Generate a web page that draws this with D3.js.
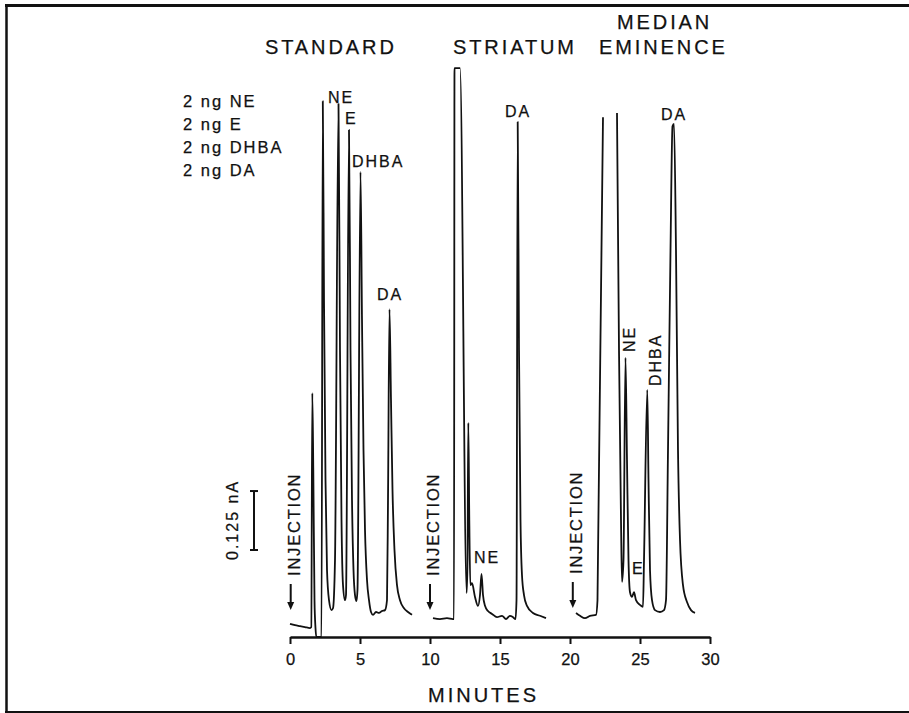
<!DOCTYPE html>
<html><head><meta charset="utf-8">
<script src="https://cdn.jsdelivr.net/npm/d3@7"></script>
<style>
html,body{margin:0;padding:0;background:#fff;}
svg{display:block;}
text{font-family:"Liberation Sans",Arial,Helvetica,sans-serif;fill:#111;stroke:#111;stroke-width:0.25px;}
</style></head><body>
<svg id="chart" width="909" height="713"></svg>
<script>
// ---- data (minutes, nA) ----
const standardTime = [0,0.357,0.714,1.071,1.429,1.521,1.593,1.664,1.750,1.821,1.879,2.250,2.343,2.429,2.536,2.643,2.786,2.964,3.071,3.214,3.464,3.571,3.679,3.786,3.929,4.000,4.214,4.321,4.429,4.536,4.643,4.750,4.821,5.036,5.143,5.250,5.357,5.500,5.643,5.786,5.929,6.143,6.357,6.571,6.786,6.929,7.000,7.107,7.214,7.321,7.464,7.643,7.857,8.143,8.429,8.714];
const standardCurrent = [0.028,0.025,0.023,0.021,0.019,0.021,0.517,0.354,0.078,0.019,0.000,0.000,1.136,0.714,0.333,0.142,0.078,0.057,0.061,0.163,1.130,0.608,0.248,0.110,0.078,0.089,1.075,0.608,0.290,0.142,0.089,0.076,0.100,0.986,0.672,0.396,0.227,0.121,0.078,0.053,0.047,0.053,0.051,0.055,0.057,0.078,0.290,0.695,0.502,0.312,0.184,0.110,0.078,0.061,0.053,0.047];

const striatumTime = [10.214,10.714,11.214,11.643,11.714,11.750,12.143,12.621,12.679,12.736,12.807,12.879,13.000,13.214,13.429,13.571,13.679,13.786,13.929,14.143,14.429,14.786,15.143,15.429,15.714,15.929,16.107,16.179,16.264,16.357,16.464,16.571,16.714,16.929,17.357,17.857,18.286];
const striatumCurrent = [0.040,0.038,0.040,0.038,0.038,1.206,1.206,0.093,0.163,0.454,0.248,0.110,0.114,0.085,0.066,0.089,0.134,0.089,0.066,0.055,0.049,0.042,0.045,0.038,0.045,0.042,0.038,0.078,1.092,0.608,0.248,0.131,0.089,0.066,0.051,0.045,0.040];

// null = pen off scale (gap in trace)
const medianTime = [20.429,20.714,21.071,21.429,21.857,21.964,22.357,22.9,23.357,23.500,23.643,23.714,23.821,23.964,24.071,24.179,24.286,24.429,24.571,24.714,25.000,25.214,25.286,25.521,25.607,25.714,25.857,26.071,26.429,26.714,26.857,27.000,27.179,27.321,27.429,27.571,27.714,27.857,28.071,28.357,28.643,28.929];
const medianCurrent = [0.051,0.045,0.040,0.045,0.047,0.078,1.102,null,1.111,0.608,0.248,0.117,0.163,0.592,0.375,0.163,0.095,0.085,0.095,0.078,0.068,0.064,0.163,0.524,0.333,0.142,0.078,0.057,0.053,0.057,0.078,0.396,0.820,1.083,1.088,0.820,0.396,0.206,0.110,0.074,0.057,0.051];

const xTicks = [0,5,10,15,20,25,30];
const injectionTimes = [0.05,10.0,20.2];
const scaleBarCurrent = 0.125;
const legendLines = ["2 ng NE","2 ng E","2 ng DHBA","2 ng DA"];
const panelTitles = ["STANDARD","STRIATUM","MEDIAN","EMINENCE"];
// peak labels: text, time (min), current (nA), rotated
const labelText = ["NE","E","DHBA","DA","NE","DA","NE","DHBA","E","DA"];
const labelTime = [2.714,3.929,4.429,6.214,13.143,15.357,24.643,26.5,24.429,26.5];
const labelCurrent = [1.132,1.088,0.996,0.714,0.157,1.102,0.604,0.532,0.134,1.096];
const labelRotated = [false,false,false,false,false,false,true,true,false,false];

// ---- drawing ----
const svg = d3.select("#chart");
const x = d3.scaleLinear().domain([0,30]).range([290,710]);
const y = d3.scaleLinear().domain([0,1.2]).range([637,71]);
const ink = "#111";

// frame
svg.append("line").attr("x1",6.5).attr("x2",6.5).attr("y1",5).attr("y2",713).attr("stroke",ink).attr("stroke-width",2.5);
svg.append("line").attr("x1",5).attr("x2",909).attr("y1",5.5).attr("y2",5.5).attr("stroke",ink).attr("stroke-width",3);
svg.append("line").attr("x1",5).attr("x2",909).attr("y1",712).attr("y2",712).attr("stroke",ink).attr("stroke-width",2);

// axis
const ax = svg.append("g").attr("transform","translate(0,637)")
  .call(d3.axisBottom(x).tickValues(xTicks).tickSize(7).tickSizeOuter(0).tickPadding(9).tickFormat(d3.format("d")));
ax.select(".domain").attr("stroke",ink).attr("stroke-width",2.5);
ax.selectAll(".tick line").attr("stroke",ink).attr("stroke-width",2);
ax.selectAll(".tick text").attr("font-size",16.5).attr("fill",ink)
  .style("font-family",'"Liberation Sans",Arial,sans-serif');
svg.append("text").attr("x",428).attr("y",702).attr("font-size",20).attr("letter-spacing",3).text("MINUTES");

// traces
const line = d3.line().defined(d=>d[1]!==null).x(d=>x(d[0])).y(d=>y(d[1])).curve(d3.curveMonotoneX);
[[standardTime,standardCurrent],[striatumTime,striatumCurrent],[medianTime,medianCurrent]].forEach(([t,c])=>{
  svg.append("path").datum(t.map((v,i)=>[v,c[i]]))
    .attr("d",line).attr("fill","none").attr("stroke",ink).attr("stroke-width",1.8).attr("stroke-linejoin","round");
});

// titles
const titlePos = [[265,54],[453,54],[617,29],[599,54]];
panelTitles.forEach((s,i)=>{
  svg.append("text").attr("x",titlePos[i][0]).attr("y",titlePos[i][1]).attr("font-size",20).attr("letter-spacing",2.9).text(s);
});

// legend
legendLines.forEach((s,i)=>{
  svg.append("text").attr("x",183).attr("y",106.5+i*23).attr("font-size",16.5).attr("letter-spacing",2).text(s);
});

// peak labels
labelText.forEach((s,i)=>{
  const px = x(labelTime[i]), py = y(labelCurrent[i]);
  const t = svg.append("text").attr("font-size",16).attr("letter-spacing",2).text(s);
  if (labelRotated[i]) t.attr("transform",`translate(${px},${py}) rotate(-90)`);
  else t.attr("x",px).attr("y",py);
});

// injection markers
injectionTimes.forEach((t,i)=>{
  const px = x(t);
  const top = i===2 ? 582 : 584;
  svg.append("line").attr("x1",px).attr("x2",px).attr("y1",top).attr("y2",top+19).attr("stroke",ink).attr("stroke-width",2);
  svg.append("path").attr("d",`M${px-3.5},${top+18}L${px+3.5},${top+18}L${px},${top+26}Z`).attr("fill",ink);
  svg.append("text").attr("transform",`translate(${px+9},${top-8}) rotate(-90)`).attr("font-size",16.5).attr("letter-spacing",1.8).text("INJECTION");
});

// scale bar
const barLen = y(0)-y(scaleBarCurrent);
const bx = 254, bBottom = 550;
svg.append("line").attr("x1",bx).attr("x2",bx).attr("y1",bBottom).attr("y2",bBottom-barLen).attr("stroke",ink).attr("stroke-width",2);
[bBottom,bBottom-barLen].forEach(yy=>svg.append("line").attr("x1",bx-4).attr("x2",bx+4).attr("y1",yy).attr("y2",yy).attr("stroke",ink).attr("stroke-width",2));
svg.append("text").attr("transform",`translate(238,560) rotate(-90)`).attr("font-size",16).attr("letter-spacing",2).text(scaleBarCurrent+" nA");
</script>
</body></html>
